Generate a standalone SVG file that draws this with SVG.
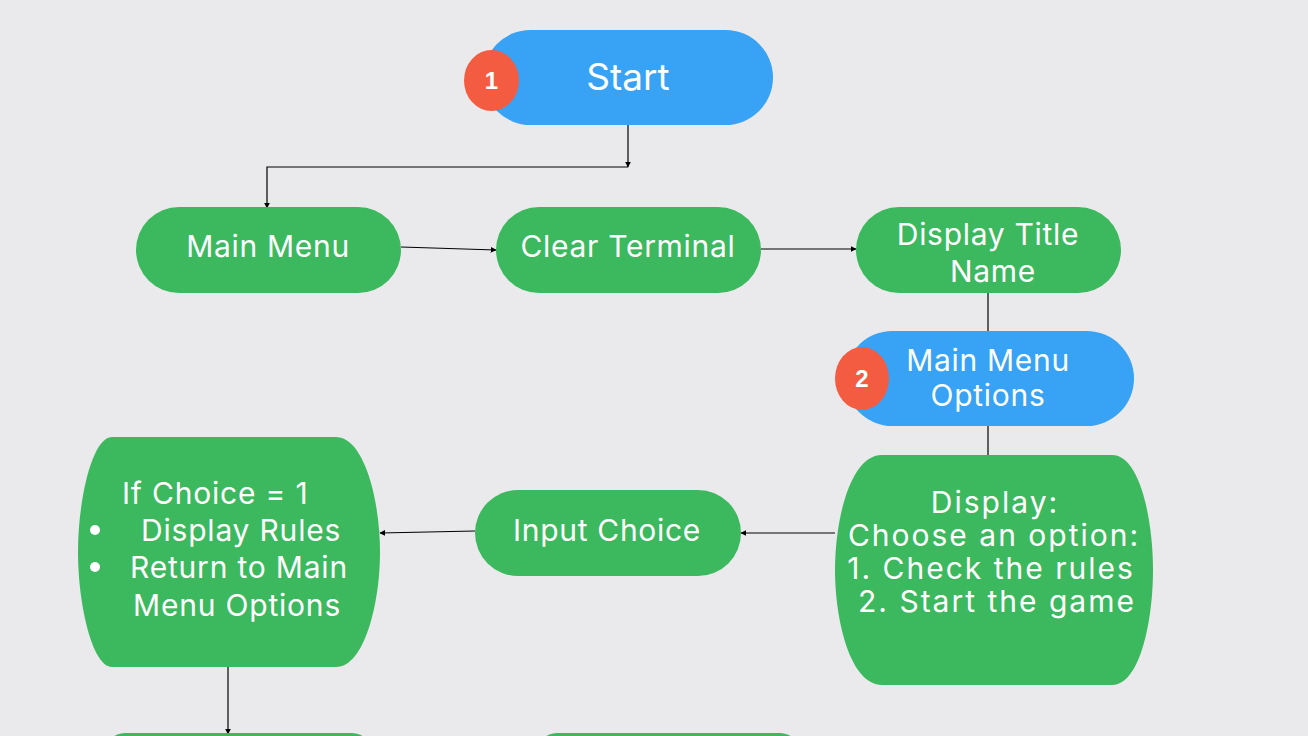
<svg xmlns="http://www.w3.org/2000/svg" width="1308" height="736" viewBox="0 0 1308 736">
<defs>
<style>
.green{fill:#3CB95E}
.blue{fill:#38A2F4}
.badge{fill:#F45C42}
.t{font-family:Inter,"Open Sans",sans-serif;fill:#fff;font-size:30px;letter-spacing:0.7px;text-anchor:middle}
.tl{font-family:Inter,"Open Sans",sans-serif;fill:#fff;font-size:30px;letter-spacing:0.8px}
.w{letter-spacing:2px}
.b{font-family:"Liberation Sans",Arial,sans-serif;font-weight:bold;fill:#fff;font-size:24px;text-anchor:middle}
.c{fill:none;stroke:#000;stroke-width:1.2}
</style>
<marker id="ah" viewBox="0 0 10 10" refX="9" refY="5" markerWidth="6" markerHeight="6" orient="auto" markerUnits="userSpaceOnUse">
<path d="M0,0 L10,5 L0,10 Z" fill="#000"/>
</marker>
</defs>
<rect width="1308" height="736" fill="#EAEAEC"/>

<g id="connectors">
<path class="c" d="M628,125 V167" marker-end="url(#ah)"/>
<path class="c" d="M628,167 H267 V208" marker-end="url(#ah)"/>
<path class="c" d="M401,247 L496,250" marker-end="url(#ah)"/>
<path class="c" d="M761,249 H856" marker-end="url(#ah)"/>
<path class="c" d="M988,293 V331"/>
<path class="c" d="M988,426 V455"/>
<path class="c" d="M835,533 H741" marker-end="url(#ah)"/>
<path class="c" d="M475,531 L380,533" marker-end="url(#ah)"/>
<path class="c" d="M228,667 V734" marker-end="url(#ah)"/>
</g>

<g id="start">
<rect class="blue" x="483" y="30" width="290" height="95" rx="47.5"/>
<text class="t" x="628" y="90" style="font-size:37px;letter-spacing:0">Start</text>
<ellipse class="badge" cx="491.5" cy="80.5" rx="27.5" ry="30.5"/>
<text class="b" x="491.5" y="89">1</text>
</g>

<g id="main-menu">
<rect class="green" x="136" y="207" width="265" height="86" rx="43"/>
<text class="t" x="268" y="257">Main Menu</text>
</g>

<g id="clear-terminal">
<rect class="green" x="496" y="207" width="265" height="86" rx="43"/>
<text class="t" x="628" y="257">Clear Terminal</text>
</g>

<g id="display-title">
<rect class="green" x="856" y="207" width="265" height="86" rx="43"/>
<text class="t" x="988" y="245">Display Title</text>
<text class="t" x="993" y="282">Name</text>
</g>

<g id="main-menu-options">
<rect class="blue" x="845" y="331" width="289" height="95" rx="47.5"/>
<text class="t" x="988" y="371">Main Menu</text>
<text class="t" x="988" y="406">Options</text>
<ellipse class="badge" cx="862" cy="378.5" rx="27" ry="31.5"/>
<text class="b" x="862" y="387">2</text>
</g>

<g id="display-options">
<path class="green" d="M882,455 H1112 C1140,455 1153,520 1153,570 C1153,620 1140,685 1112,685 H882 C850,685 835,620 835,570 C835,520 850,455 882,455 Z"/>
<text class="t w" x="995" y="513">Display:</text>
<text class="t w" x="994" y="546">Choose an option:</text>
<text class="t w" x="991" y="579">1. Check the rules</text>
<text class="t w" x="997" y="612">2. Start the game</text>
</g>

<g id="input-choice">
<rect class="green" x="475" y="490" width="266" height="86" rx="43"/>
<text class="t" x="607" y="541">Input Choice</text>
</g>

<g id="if-choice">
<path class="green" d="M112,437 H336 C364,437 380,500 380,552 C380,604 364,667 336,667 H112 C92,667 78,604 78,552 C78,500 92,437 112,437 Z"/>
<text class="tl" x="122" y="504">If Choice = 1</text>
<circle cx="95" cy="530" r="5" fill="#fff"/>
<text class="tl" x="141" y="541">Display Rules</text>
<circle cx="95" cy="567" r="5" fill="#fff"/>
<text class="tl" x="130" y="578">Return to Main</text>
<text class="tl" x="133" y="616">Menu Options</text>
</g>

<g id="next-left">
<rect class="green" x="105" y="733" width="267" height="86" rx="20"/>
</g>
<g id="next-right">
<rect class="green" x="537" y="733" width="263" height="86" rx="20"/>
</g>
</svg>
